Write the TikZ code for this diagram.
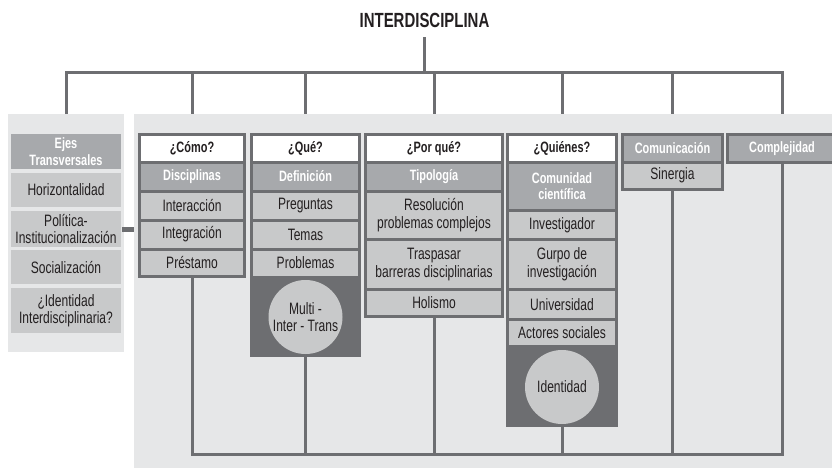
\documentclass[tikz,border=0pt]{standalone}
\usepackage{fontspec}
\setmainfont{Liberation Sans}[FakeStretch=0.73]
\definecolor{bgc}{HTML}{E6E7E8}
\definecolor{lt}{HTML}{C8C9CA}
\definecolor{md}{HTML}{A7A9AC}
\definecolor{dk}{HTML}{6D6E71}
\definecolor{tx}{HTML}{231F20}
\newcommand\bx[7]{\node[#6, minimum width={#4-#2}, minimum height={#5-#3}] (#1) at (#2,#3) {#7};}
\begin{document}
\begin{tikzpicture}[x=1pt,y=-1pt,
  ln/.style={draw=dk,line width=3pt},
  base/.style={rectangle,anchor=north west,inner sep=0pt,outer sep=0pt,align=center,text=tx,font=\fontsize{16.5}{17.5}\selectfont},
  cell/.style={base,draw=dk,line width=3pt,fill=lt},
  hwhite/.style={cell,fill=white,font=\fontsize{15}{16.5}\selectfont\bfseries},
  hmid/.style={cell,fill=md,text=white,font=\fontsize{15}{16.5}\selectfont\bfseries},
  lcell/.style={base,fill=lt},
  lhead/.style={base,fill=md,text=white,font=\fontsize{15}{16.5}\selectfont\bfseries},
  darea/.style={base,fill=dk},
  circ/.style={circle,fill=lt,minimum size=74pt,inner sep=0pt,align=center,text=tx,font=\fontsize{16.5}{17.5}\selectfont},
  panel/.style={base,fill=bgc}
]
\useasboundingbox (0,0) rectangle (832,469);
\clip (0,0) rectangle (832,469);
% panels
\bx{lp}{8}{114}{124}{352}{panel}{}
\bx{mp}{134}{114}{840}{468}{panel}{}
% title
\node[font=\fontsize{20.5}{22}\selectfont\bfseries,text=tx] (title) at (424.5,20.5) {INTERDISCIPLINA};
% left panel
\bx{ejes}{11}{134}{121}{169}{lhead}{Ejes\\Transversales}
\bx{hor}{11}{173}{121}{207}{lcell}{Horizontalidad}
\bx{pol}{11}{211}{121}{247}{lcell}{Política-\\Institucionalización}
\bx{soc}{11}{250}{121}{284}{lcell}{Socialización}
\bx{ide}{11}{288}{121}{333}{lcell}{¿Identidad\\Interdisciplinaria?}
% como
\bx{como}{139.5}{134.5}{244.5}{162}{hwhite}{¿Cómo?}
\bx{disc}{139.5}{162}{244.5}{191}{hmid}{Disciplinas}
\bx{inter}{139.5}{191}{244.5}{220}{cell}{Interacción}
\bx{integ}{139.5}{220}{244.5}{249}{cell}{Integración}
\bx{prest}{139.5}{249}{244.5}{276.5}{cell}{Préstamo}
% que
\bx{que}{251.5}{134.5}{359.5}{162}{hwhite}{¿Qué?}
\bx{defi}{251.5}{162}{359.5}{191}{hmid}{Definición}
\bx{preg}{251.5}{191}{359.5}{220}{cell}{Preguntas}
\bx{temas}{251.5}{220}{359.5}{249}{cell}{Temas}
\bx{probl}{251.5}{249}{359.5}{277}{cell}{Problemas}
\bx{qdark}{250}{277}{361}{357}{darea}{}
\node[circ] (mit) at (305.5,317) {Multi -\\Inter - Trans};
% por que
\bx{porque}{365.5}{134.5}{502.5}{162}{hwhite}{¿Por qué?}
\bx{tipo}{365.5}{162}{502.5}{191}{hmid}{Tipología}
\bx{reso}{365.5}{191}{502.5}{239.5}{cell}{Resolución\\problemas complejos}
\bx{trasp}{365.5}{239.5}{502.5}{289.5}{cell}{Traspasar\\barreras disciplinarias}
\bx{holi}{365.5}{289.5}{502.5}{316.5}{cell}{Holismo}
% quienes
\bx{quienes}{507.5}{134.5}{616.5}{162}{hwhite}{¿Quiénes?}
\bx{comu}{507.5}{162}{616.5}{210}{hmid}{Comunidad\\científica}
\bx{inv}{507.5}{210}{616.5}{239.5}{cell}{Investigador}
\bx{grupo}{507.5}{239.5}{616.5}{289}{cell}{Gurpo de\\investigación}
\bx{univ}{507.5}{289}{616.5}{319.5}{cell}{Universidad}
\bx{actores}{507.5}{319.5}{616.5}{346.5}{cell}{Actores sociales}
\bx{qidark}{506}{346.5}{618}{427}{darea}{}
\node[circ] (iden) at (562,387) {Identidad};
% comunicacion, complejidad
\bx{comunic}{622.5}{134.5}{722.5}{162}{hmid}{Comunicación}
\bx{siner}{622.5}{162}{722.5}{189}{cell}{Sinergia}
\bx{compl}{727.5}{134.5}{836.5}{162}{hmid}{Complejidad}
% connectors
\coordinate (t1) at (66,72);
\coordinate (t2) at (192,72);
\coordinate (t3) at (305.5,72);
\coordinate (t4) at (434,72);
\coordinate (t5) at (562,72);
\coordinate (t6) at (672.5,72);
\coordinate (t7) at (782,72);
\coordinate (bot) at (0,454);
\draw[ln] ([yshift=-6pt]title.south) -- (title.south |- t1);
\draw[ln] (t1 |- lp.north) |- (t7) -- (t7 |- mp.north);
\foreach \t in {t2,t3,t4,t5,t6} \draw[ln] (\t) -- (\t |- mp.north);
\draw[ln] (prest.south) |- (t7 |- bot) -- (t7 |- compl.south);
\draw[ln] (qdark.south) -- (qdark.south |- bot);
\draw[ln] (holi.south) -- (holi.south |- bot);
\draw[ln] (qidark.south) -- (qidark.south |- bot);
\draw[ln] (siner.south) -- (siner.south |- bot);
\draw[draw=dk,line width=5pt] ([xshift=-2pt]lp.east |- pol.east) -- (mp.west |- pol.east);
\end{tikzpicture}
\end{document}
